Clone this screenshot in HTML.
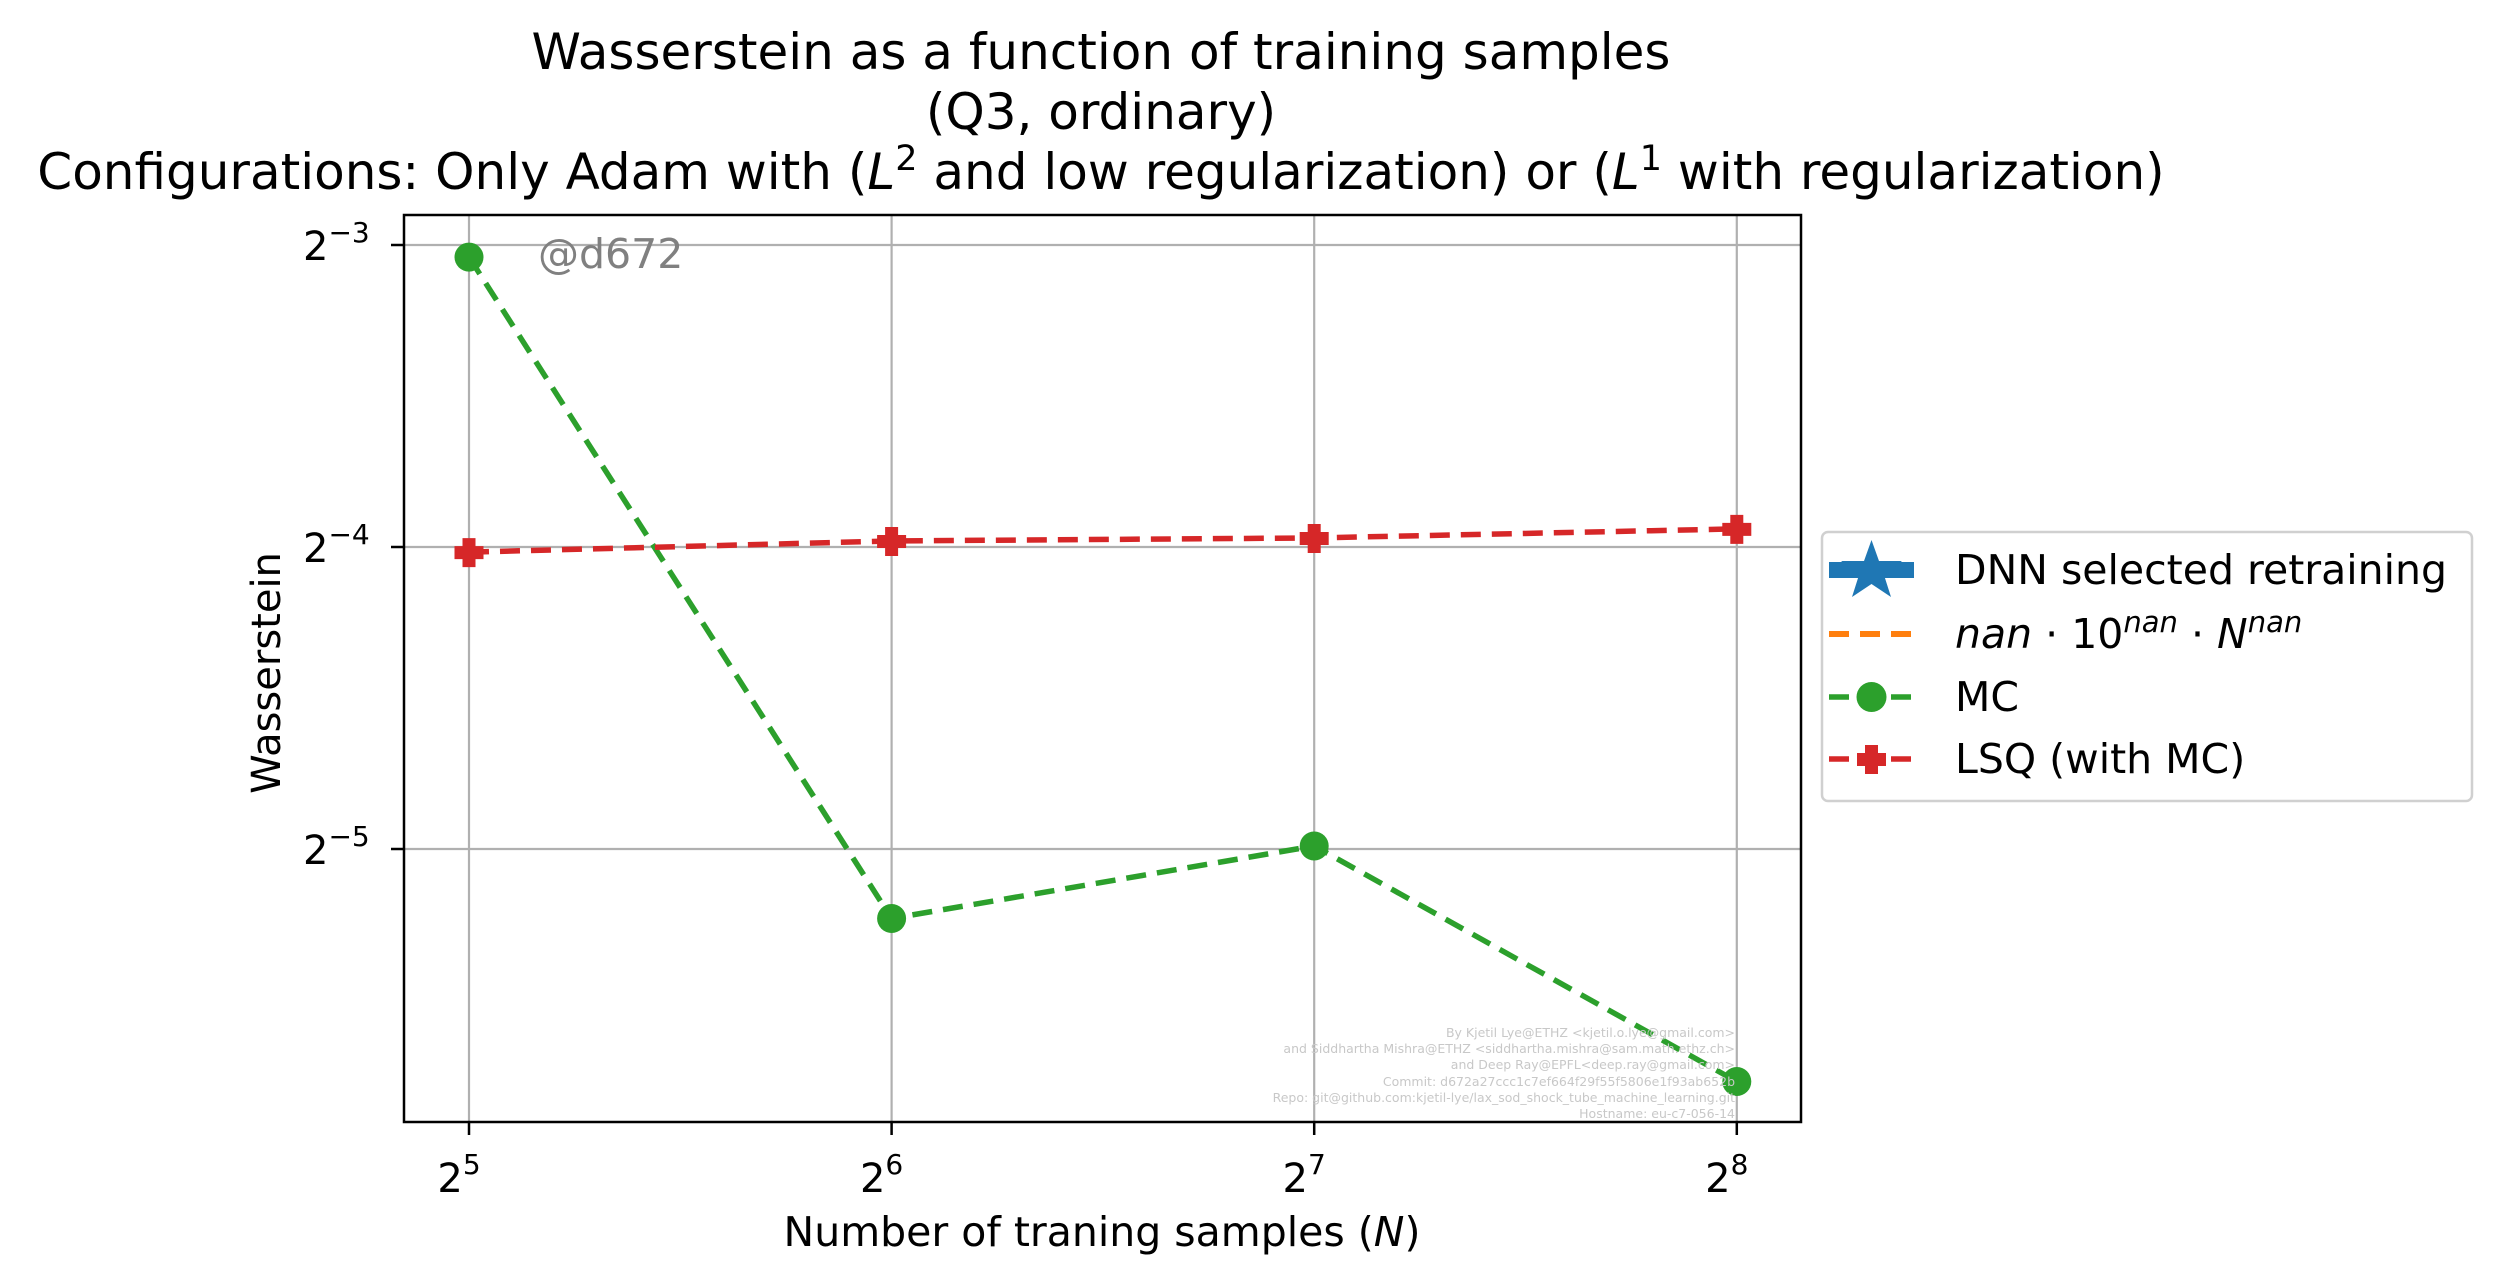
<!DOCTYPE html>
<html><head><meta charset="utf-8"><style>
html,body{margin:0;padding:0;background:#fff;}
svg{display:block;font-family:"DejaVu Sans","Liberation Sans",sans-serif;}
</style></head><body>
<svg id="chart" width="2499" height="1285" viewBox="0 0 2499 1285">
<rect width="2499" height="1285" fill="#fff"/>
<g font-size="50" text-anchor="middle" fill="#000">
<text x="1101" y="69">Wasserstein as a function of training samples</text>
<text x="1101" y="129">(Q3, ordinary)</text>
<text x="1101" y="189">Configurations: Only Adam with (<tspan font-style="italic">L</tspan><tspan dy="-19" font-size="35">2</tspan><tspan dy="19"> and low regularization) or (</tspan><tspan font-style="italic">L</tspan><tspan dy="-19" font-size="35">1</tspan><tspan dy="19"> with regularization)</tspan></text>
</g>
<g id="grid"></g>
<g id="ticks"></g>
<g id="series"></g>
<rect x="404" y="215" width="1397" height="907" fill="none" stroke="#000" stroke-width="2.5"/>
<text x="538" y="268" font-size="41" fill="#808080">@d672</text>
<g font-size="12.5" fill="#c8c8c8" text-anchor="end">
<text x="1735" y="1037">By Kjetil Lye@ETHZ &lt;kjetil.o.lye@gmail.com&gt;</text>
<text x="1735" y="1053">and Siddhartha Mishra@ETHZ &lt;siddhartha.mishra@sam.math.ethz.ch&gt;</text>
<text x="1735" y="1069">and Deep Ray@EPFL&lt;deep.ray@gmail.com&gt;</text>
<text x="1735" y="1086">Commit: d672a27ccc1c7ef664f29f55f5806e1f93ab652b</text>
<text x="1735" y="1102">Repo: git@github.com:kjetil-lye/lax_sod_shock_tube_machine_learning.git</text>
<text x="1735" y="1118">Hostname: eu-c7-056-14</text>
</g>
<text x="1102" y="1246" font-size="41" text-anchor="middle">Number of traning samples (<tspan font-style="italic">N</tspan>)</text>
<text transform="translate(280,673) rotate(-90)" font-size="40" text-anchor="middle">Wasserstein</text>
<g transform="translate(-7,0)">
<rect x="1829" y="532" width="650" height="269" rx="6" fill="#fff" stroke="#d0d0d0" stroke-width="2.5"/>
<g>
<line x1="1836" y1="570" x2="1921" y2="570" stroke="#1f77b4" stroke-width="16"/>
<polygon points="1878.5,540 1886,561 1909,561 1891,575 1898,597 1878.5,584 1859,597 1866,575 1848,561 1871,561" fill="#1f77b4"/>
<text x="1962" y="584" font-size="41">DNN selected retraining</text></g>
<g>
<line x1="1836" y1="634" x2="1921" y2="634" stroke="#ff7f0e" stroke-width="6" stroke-dasharray="20,11"/>
<text x="1962" y="648" font-size="41"><tspan font-style="italic">nan</tspan> · 10<tspan dy="-16" font-size="29" font-style="italic">nan</tspan><tspan dy="16"> · </tspan><tspan font-style="italic">N</tspan><tspan dy="-16" font-size="29" font-style="italic">nan</tspan></text></g>
<g>
<line x1="1836" y1="697" x2="1921" y2="697" stroke="#2ca02c" stroke-width="5.5" stroke-dasharray="20,11"/>
<circle cx="1878.5" cy="697" r="15" fill="#2ca02c"/>
<text x="1962" y="711" font-size="41">MC</text></g>
<g>
<line x1="1836" y1="759" x2="1921" y2="759" stroke="#d62728" stroke-width="5.5" stroke-dasharray="20,11"/>
<path d="M1872 745h13v8h8v13h-8v8h-13v-8h-8v-13h8z" fill="#d62728"/>
<text x="1962" y="773" font-size="41">LSQ (with MC)</text></g>
</g>
</svg>
<script>
const xExponents = [5, 6, 7, 8];
const yTickExponents = [-3, -4, -5];
const mcLog2 = [-3.04, -5.23, -4.99, -5.77];
const lsqLog2 = [-4.017, -3.98, -3.97, -3.94];

const NS = "http://www.w3.org/2000/svg";
function xScale(e){ return 469 + (e - 5) * 422.6; }
function yScale(l){ return 245 + (-3 - l) * 302; }
function mk(tag, attrs, parent){
  const el = document.createElementNS(NS, tag);
  for (const k in attrs) el.setAttribute(k, attrs[k]);
  parent.appendChild(el); return el;
}
const grid = document.getElementById('grid');
const ticks = document.getElementById('ticks');
const series = document.getElementById('series');

xExponents.forEach(e => {
  const x = xScale(e);
  const g = mk('line', {x1:x, y1:215, x2:x, y2:1122, stroke:'#b0b0b0', 'stroke-width':2.2}, grid);
  
  
  const t = mk('line', {x1:x, y1:1122, x2:x, y2:1135, stroke:'#000', 'stroke-width':2.5}, ticks);
  
  
  const lab = mk('text', {x:x - 10, y:1192, 'font-size':40, 'text-anchor':'middle'}, ticks);
  
  
  lab.innerHTML = '2<tspan dy="-18" font-size="28">' + e + '</tspan>';
});
yTickExponents.forEach(e => {
  const y = yScale(e);
  const g = mk('line', {x1:404, y1:y, x2:1801, y2:y, stroke:'#b0b0b0', 'stroke-width':2.2}, grid);
  
  
  const t = mk('line', {x1:391, y1:y, x2:404, y2:y, stroke:'#000', 'stroke-width':2.5}, ticks);
  
  
  const lab = mk('text', {x:303, y:y + 15, 'font-size':40}, ticks);
  
  
  lab.innerHTML = '2<tspan dy="-18" font-size="28">\u2212' + Math.abs(e) + '</tspan>';
});

function drawLine(vals, color, name){
  const pts = vals.map((v,i) => xScale(xExponents[i]) + ',' + yScale(v)).join(' ');
  const pl = mk('polyline', {points:pts, fill:'none', stroke:color, 'stroke-width':5.5, 'stroke-dasharray':'20,11'}, series);
  
  
}
drawLine(mcLog2, '#2ca02c', 'mc');
drawLine(lsqLog2, '#d62728', 'lsq');
mcLog2.forEach((v,i) => {
  const c = mk('circle', {cx:xScale(xExponents[i]), cy:yScale(v), r:14.5, fill:'#2ca02c'}, series);
  
  
});
lsqLog2.forEach((v,i) => {
  const x = xScale(xExponents[i]), y = yScale(v);
  const p = mk('path', {d:`M${x-6.5} ${y-14}h13v8h8v13h-8v8h-13v-8h-8v-13h8z`, fill:'#d62728'}, series);
  
  
});
</script>
</body></html>
